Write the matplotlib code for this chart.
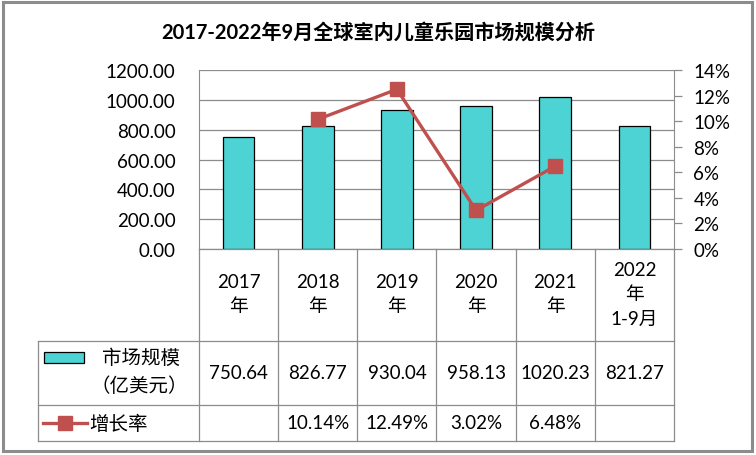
import matplotlib.pyplot as plt
from matplotlib.transforms import blended_transform_factory
from matplotlib.lines import Line2D
from matplotlib.patches import Rectangle
import numpy as np

plt.rcParams['font.family'] = ['Lato', 'Noto Sans CJK SC', 'DejaVu Sans']

years = ['2017\n年', '2018\n年', '2019\n年', '2020\n年', '2021\n年', '2022\n年\n1-9月']
market = [750.64, 826.77, 930.04, 958.13, 1020.23, 821.27]
growth = [np.nan, 10.14, 12.49, 3.02, 6.48, np.nan]
market_labels = ['750.64', '826.77', '930.04', '958.13', '1020.23', '821.27']
growth_labels = ['', '10.14%', '12.49%', '3.02%', '6.48%', '']

W, H = 756, 456
bar_color = '#4DD3D3'
line_color = '#C0504D'
grid_color = '#8C8C8C'
fs = 13.5


def fx(px):
    return px / W


def fy(py):
    return 1 - py / H


fig = plt.figure(figsize=(7.56, 4.56), dpi=100)

# outer frame
fig.patches.append(Rectangle((fx(3), fy(452)), fx(749), 449 / H, transform=fig.transFigure,
                             fill=False, edgecolor='#8C8C8C', linewidth=2.2))

left, right, top, base = 199, 674, 71, 250
ax = fig.add_axes([fx(left), fy(base), fx(right - left), (base - top) / H])
x = np.arange(len(years))
ax.bar(x, market, width=0.4, color=bar_color, edgecolor='black', linewidth=0.9, zorder=3)
ax.set_xlim(-0.5, len(years) - 0.5)
ax.set_ylim(0, 1200)
ax.set_yticks(np.arange(0, 1201, 200))
ax.set_yticklabels([f'{v:.2f}' for v in np.arange(0, 1201, 200)])
ax.tick_params(axis='y', length=0, pad=17, labelsize=fs, colors='black')
ax.set_xticks([])
ax.grid(axis='y', color=grid_color, linewidth=0.9, zorder=0)
for s in ['top', 'bottom', 'right']:
    ax.spines[s].set_visible(False)
ax.spines['left'].set_color(grid_color)

ax2 = ax.twinx()
ax2.plot(x, growth, color=line_color, linewidth=2.4, marker='s', markersize=10, zorder=5)
ax2.set_ylim(0, 14)
ax2.set_yticks(np.arange(0, 15, 2))
ax2.set_yticklabels([f'{v}%' for v in range(0, 15, 2)])
ax2.tick_params(axis='y', length=6, width=0.9, color=grid_color, pad=8, labelsize=fs)
for s in ['top', 'bottom', 'left']:
    ax2.spines[s].set_visible(False)
ax2.spines['right'].set_color(grid_color)

fig.text(0.5, fy(33), '2017-2022年9月全球室内儿童乐园市场规模分析', ha='center', va='center',
         fontsize=14.5, fontweight='bold')

# data table
row1, row2, row3 = 342, 406, 442
col_w = (right - left) / len(years)
tf = fig.transFigure
lw = 0.9
fig.add_artist(Line2D([fx(left), fx(right)], [fy(base), fy(base)], transform=tf, color=grid_color, lw=lw))
for yy in [row1, row2, row3]:
    fig.add_artist(Line2D([fx(38), fx(right)], [fy(yy), fy(yy)], transform=tf, color=grid_color, lw=lw))
for i in range(len(years) + 1):
    xx = left + i * col_w
    fig.add_artist(Line2D([fx(xx), fx(xx)], [fy(base), fy(row3)], transform=tf, color=grid_color, lw=lw))
fig.add_artist(Line2D([fx(38), fx(38)], [fy(row1), fy(row3)], transform=tf, color=grid_color, lw=lw))

bt = blended_transform_factory(ax.transData, tf)
for i in range(len(years)):
    fig.text(x[i], fy((base + row1) / 2 - 1), years[i], transform=bt, ha='center', va='center',
             fontsize=fs, linespacing=1.5)
    fig.text(x[i], fy((row1 + row2) / 2), market_labels[i], transform=bt, ha='center', va='center',
             fontsize=fs)
    fig.text(x[i], fy((row2 + row3) / 2), growth_labels[i], transform=bt, ha='center', va='center',
             fontsize=fs)

# legend keys
fig.patches.append(Rectangle((fx(44), fy(364)), fx(40), 11 / H, transform=tf,
                             facecolor=bar_color, edgecolor='black', linewidth=0.9))
fig.text(fx(141), fy(358), '市场规模', ha='center', va='center', fontsize=fs + 0.5)
fig.text(fx(139), fy(386), '（亿美元）', ha='center', va='center', fontsize=fs + 0.5)
fig.add_artist(Line2D([fx(43), fx(87)], [fy(424), fy(424)], transform=tf, color=line_color, lw=2.4))
fig.add_artist(Line2D([fx(65)], [fy(424)], transform=tf, color=line_color, marker='s',
                      markersize=10, linestyle='none'))
fig.text(fx(89), fy(424), '增长率', ha='left', va='center', fontsize=fs + 0.5)

fig.savefig('out.png', dpi=100)
